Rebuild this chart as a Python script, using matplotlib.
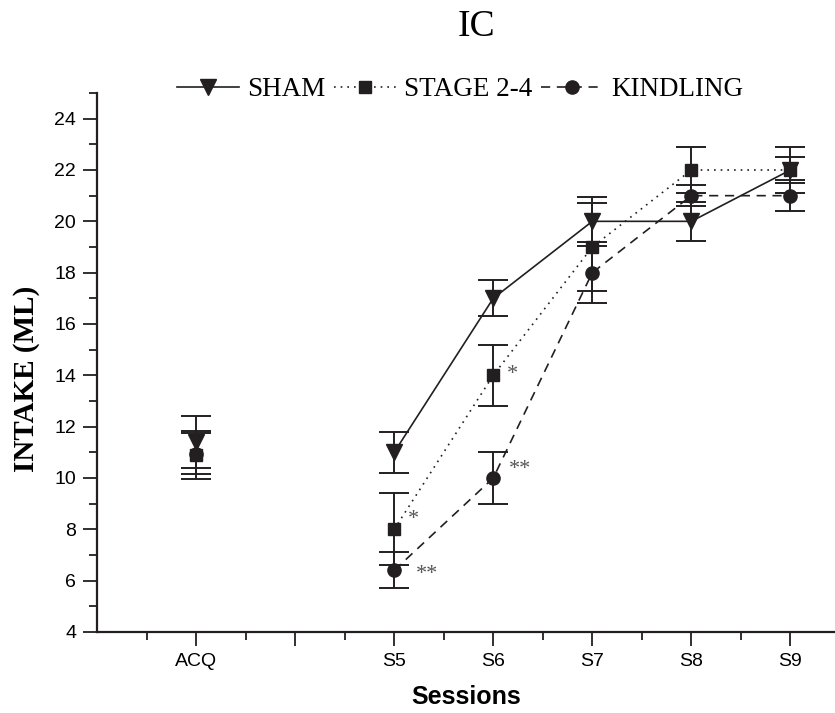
import matplotlib
matplotlib.use("Agg")
import matplotlib.pyplot as plt
import numpy as np

# x positions: ACQ=1, gap=2, S5..S9=3..7
sessions = ["ACQ", "", "S5", "S6", "S7", "S8", "S9"]
x_acq = 1
x_sess = [3, 4, 5, 6, 7]

sham_acq, sham_acq_err = 11.4, 1.0
sham = [11.0, 17.0, 20.0, 20.0, 22.0]
sham_err = [0.8, 0.7, 0.95, 0.75, 0.9]

stage_acq, stage_acq_err = 10.9, 0.95
stage = [8.0, 14.0, 19.0, 22.0, 22.0]
stage_err = [1.4, 1.2, 1.7, 0.9, 0.5]

kind_acq, kind_acq_err = 10.95, 0.8
kind = [6.4, 10.0, 18.0, 21.0, 21.0]
kind_err = [0.7, 1.0, 1.2, 0.4, 0.6]

# significance marks next to the S5 / S6 points: (x, y, text)
stars = [(3.19, 8.4, "*"), (3.33, 6.25, "**"), (4.19, 14.05, "*"), (4.27, 10.35, "**")]

INK = "#231f20"
SERIF = ["Liberation Serif", "DejaVu Serif"]
SANS = ["Liberation Sans", "DejaVu Sans"]

fig = plt.figure(figsize=(8.35, 7.13), dpi=100)
ax = fig.add_axes([97 / 835, 1 - 632 / 713, 1 - 97 / 835, (632 - 93) / 713])

series = [
    ("SHAM", sham_acq, sham_acq_err, sham, sham_err, "v", 11, "-"),
    ("STAGE 2-4", stage_acq, stage_acq_err, stage, stage_err, "s", 8, (0, (1, 3))),
    ("KINDLING", kind_acq, kind_acq_err, kind, kind_err, "o", 9.5, (0, (5.5, 4))),
]

handles = []
for label, a, ae, vals, errs, mk, ms, ls in series:
    xs = [x_acq] + x_sess
    ys = [a] + vals
    es = [ae] + errs
    ax.errorbar(xs, ys, yerr=es, fmt="none", ecolor=INK, elinewidth=1.4,
                capsize=11, capthick=1.4, zorder=2)
    ax.plot([x_acq], [a], marker=mk, ms=ms, color=INK, ls="none", zorder=3)
    h, = ax.plot(x_sess, vals, marker=mk, ms=ms, color=INK, ls=ls, lw=1.2,
                 zorder=3, label=label)
    handles.append(h)

for x, y, t in stars:
    ax.text(x, y, t, fontsize=16, color="#555555",
            family=SERIF, ha="center", va="center")

ax.set_xlim(0, 7.45)
ax.set_ylim(4, 25)
ax.set_xticks(range(1, 8))
ax.set_xticklabels(sessions, family=SANS, fontsize=14)
ax.set_xticks(np.arange(0.5, 7.5, 1.0), minor=True)
ax.set_yticks(range(4, 25, 2))
ax.set_yticklabels([str(v) for v in range(4, 25, 2)], family=SANS, fontsize=14)
ax.set_yticks(range(5, 26, 2), minor=True)
ax.tick_params(which="major", length=10, width=1.3, color=INK, pad=5)
ax.tick_params(which="minor", length=6, width=1.3, color=INK)
for s in ("top", "right"):
    ax.spines[s].set_visible(False)
for s in ("left", "bottom"):
    ax.spines[s].set_linewidth(1.6)
    ax.spines[s].set_color(INK)

ax.set_xlabel("Sessions", family=SANS, fontsize=18, fontweight="bold", labelpad=11)
ax.set_ylabel("INTAKE (ML)", family=SERIF, fontsize=21, fontweight="bold")
ax.yaxis.set_label_coords(-57 / 738, 0.47)

fig.text(476 / 835, 1 - 27 / 713, "IC", family=SERIF, fontsize=27,
         ha="center", va="center")

fig.legend(handles=handles, loc="center", bbox_to_anchor=(460 / 835, 1 - 90 / 713),
           ncol=3, frameon=False, prop={"family": SERIF, "size": 19.5},
           handlelength=2.3, handletextpad=0.3, columnspacing=0.3, borderpad=0)

fig.savefig("out.png", dpi=100)
